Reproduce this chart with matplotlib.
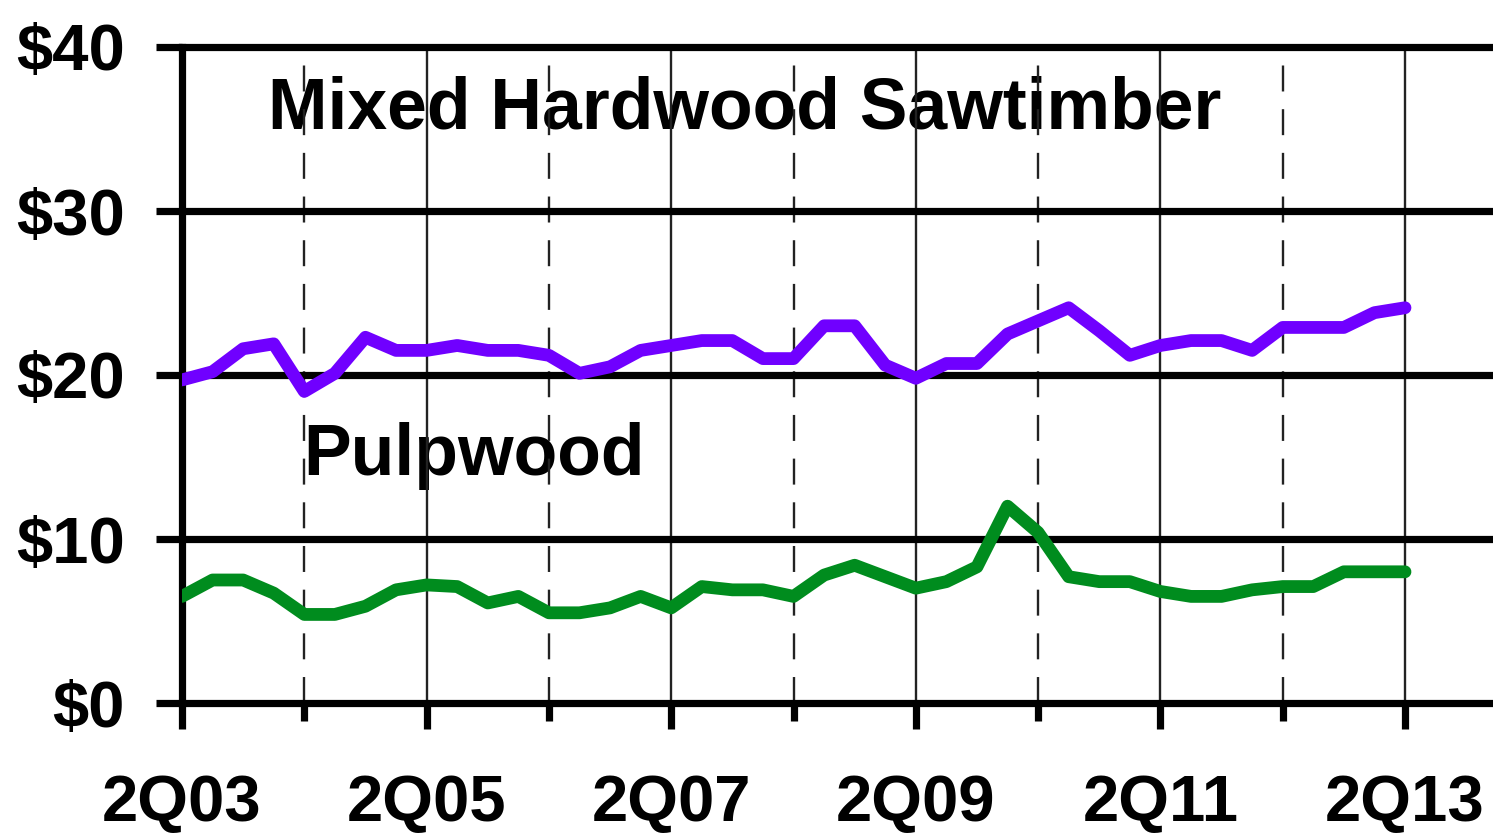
import numpy as np
import matplotlib
matplotlib.use("Agg")
import matplotlib.pyplot as plt
from matplotlib.ticker import FixedLocator, FixedFormatter

# Quarterly stumpage prices, 2Q03 .. 2Q13 ($/ton)
sawtimber = [19.7, 20.2, 21.6, 21.9, 19.0, 20.1, 22.3, 21.5, 21.5, 21.8,
             21.5, 21.5, 21.2, 20.1, 20.5, 21.5, 21.8, 22.1, 22.1, 21.0,
             21.0, 23.0, 23.0, 20.6, 19.8, 20.7, 20.7, 22.5, 23.3, 24.1,
             22.7, 21.2, 21.8, 22.1, 22.1, 21.5, 22.9, 22.9, 22.9, 23.8,
             24.1]
pulpwood = [6.5, 7.5, 7.5, 6.7, 5.4, 5.4, 5.9, 6.9, 7.2, 7.1,
            6.1, 6.5, 5.5, 5.5, 5.8, 6.5, 5.8, 7.1, 6.9, 6.9,
            6.5, 7.8, 8.4, 7.7, 7.0, 7.4, 8.3, 12.0, 10.4, 7.7,
            7.4, 7.4, 6.8, 6.5, 6.5, 6.9, 7.1, 7.1, 8.0, 8.0,
            8.0]
year_labels = ["2Q03", "2Q05", "2Q07", "2Q09", "2Q11", "2Q13"]
y_values = [0, 10, 20, 30, 40]
y_labels = ["$0", "$10", "$20", "$30", "$40"]
series_names = ["Mixed Hardwood Sawtimber", "Pulpwood"]

plt.rcParams["font.family"] = ["Liberation Sans", "DejaVu Sans"]
plt.rcParams["font.weight"] = "bold"

W, H = 1493, 834
fig = plt.figure(figsize=(W / 100, H / 100), dpi=100)
left_px, top_px, bottom_px = 182, 47, 703
ax = fig.add_axes([left_px / W, (H - bottom_px) / H,
                   (W - left_px) / W, (bottom_px - top_px) / H])

q = np.arange(len(sawtimber))
per_q = 30.575
ax.set_xlim(0, (W - left_px) / per_q)
ax.set_ylim(0, 40)

heavy = 5.2
# horizontal value lines
for yv in y_values[1:-1]:
    ax.axhline(yv, color="black", lw=heavy, zorder=2)
for s in ("top", "bottom", "left"):
    ax.spines[s].set_linewidth(heavy)
    ax.spines[s].set_color("black")
ax.spines["right"].set_visible(False)

# yearly vertical lines: solid on odd years, dashed on even years
years = np.arange(4, len(sawtimber), 4)
for i, xv in enumerate(years):
    if i % 2 == 1:
        ax.axvline(xv, color="#222222", lw=1.7, zorder=1)
    else:
        ax.axvline(xv, color="#222222", lw=1.7, zorder=1,
                   dashes=(11, 7.5))

ax.plot(q, sawtimber, color="#7000FF", lw=9.2, zorder=4,
        solid_capstyle="round", solid_joinstyle="round")
ax.plot(q, pulpwood, color="#008C1E", lw=9.2, zorder=4,
        solid_capstyle="round", solid_joinstyle="round")

ax.text(2.8, 35.05, series_names[0], fontsize=51.5, fontweight="bold",
        va="baseline", ha="left", zorder=0)
ax.text(3.95, 13.9, series_names[1], fontsize=51.5, fontweight="bold",
        va="baseline", ha="left", zorder=0)

# ticks
ax.xaxis.set_major_locator(FixedLocator(list(range(0, 41, 8))))
ax.xaxis.set_major_formatter(FixedFormatter(year_labels))
ax.xaxis.set_minor_locator(FixedLocator(list(range(4, 41, 8))))
ax.tick_params(axis="x", which="major", direction="out", length=19,
               width=heavy, labelsize=47, pad=32)
ax.tick_params(axis="x", which="minor", direction="out", length=13,
               width=heavy)
ax.set_yticks(y_values)
ax.set_yticklabels(y_labels)
ax.tick_params(axis="y", direction="out", length=19, width=heavy,
               labelsize=47, pad=22)
for lab in ax.get_xticklabels() + ax.get_yticklabels():
    lab.set_fontweight("bold")

fig.savefig("out.png", dpi=100, facecolor="white")
